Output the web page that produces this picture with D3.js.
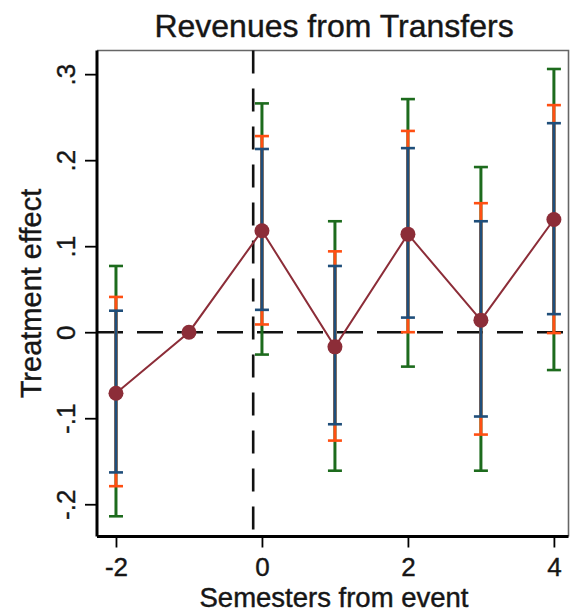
<!DOCTYPE html>
<html>
<head>
<meta charset="utf-8">
<script src="https://cdn.jsdelivr.net/npm/d3@7"></script>
<style>
  html, body { margin: 0; padding: 0; background: #fff; }
  svg { display: block; font-family: "Liberation Sans", Arial, sans-serif; }
</style>
</head>
<body>
<svg id="chart" width="570" height="613"></svg>
<script>
// ---- Data ----
const periods   = [-2, -1, 0, 1, 2, 3, 4];
const estimates = [-0.071, 0, 0.118, -0.017, 0.114, 0.014, 0.131];
// 90% CI (blue)
const ci90Low   = [-0.163, null, 0.026, -0.107, 0.017, -0.098, 0.021];
const ci90High  = [0.025, null, 0.213, 0.077, 0.214, 0.129, 0.243];
// 95% CI (orange)
const ci95Low   = [-0.179, null, 0.009, -0.126, 0.000, -0.119, -0.001];
const ci95High  = [0.041, null, 0.228, 0.094, 0.234, 0.150, 0.264];
// 99% CI (green)
const ci99Low   = [-0.214, null, -0.026, -0.161, -0.040, -0.161, -0.044];
const ci99High  = [0.077, null, 0.266, 0.129, 0.271, 0.192, 0.306];

const xTicks = [-2, 0, 2, 4];
const xTickLabels = ["-2", "0", "2", "4"];
const yTicks = [-0.2, -0.1, 0, 0.1, 0.2, 0.3];
const yTickLabels = ["-.2", "-.1", "0", ".1", ".2", ".3"];
const eventLine = -0.12;

const chartTitle = "Revenues from Transfers";
const xTitle = "Semesters from event";
const yTitle = "Treatment effect";

// ---- Layout ----
const svg = d3.select("#chart");
const pL = 97, pR = 568.5, pT = 50.5, pB = 536.5;

const x = d3.scaleLinear().domain([-2.26, 4.2]).range([pL, pR]);
const y = d3.scaleLinear().domain([-0.2375, 0.3275]).range([pB, pT]);

const colGreen = "#1d6b1d", colOrange = "#ff4f12", colBlue = "#1f4e7a", colMaroon = "#8c2d38";
const txtCol = "#161616";

// plot region border (top/right)
svg.append("path")
  .attr("d", `M${pL},${pT}H${pR}V${pB}`)
  .attr("fill", "none").attr("stroke", "#666").attr("stroke-width", 1.6);

// reference lines
svg.append("line")
  .attr("x1", pL).attr("x2", pR).attr("y1", y(0)).attr("y2", y(0))
  .attr("stroke", "#111").attr("stroke-width", 2.6).attr("stroke-dasharray", "26,14");
svg.append("line")
  .attr("x1", x(eventLine)).attr("x2", x(eventLine)).attr("y1", pT).attr("y2", pB)
  .attr("stroke", "#111").attr("stroke-width", 2.6).attr("stroke-dasharray", "23,15");

// CI bars
const capW = 7;
function drawCI(lo, hi, color) {
  const g = svg.append("g");
  periods.forEach((p, i) => {
    if (lo[i] == null) return;
    const cx = x(p);
    g.append("line").attr("x1", cx).attr("x2", cx).attr("y1", y(lo[i])).attr("y2", y(hi[i]))
      .attr("stroke", color).attr("stroke-width", 3);
    [lo[i], hi[i]].forEach(v => {
      g.append("line").attr("x1", cx - capW).attr("x2", cx + capW).attr("y1", y(v)).attr("y2", y(v))
        .attr("stroke", color).attr("stroke-width", 2.6);
    });
  });
}
drawCI(ci99Low, ci99High, colGreen);
drawCI(ci95Low, ci95High, colOrange);
drawCI(ci90Low, ci90High, colBlue);

// estimate line & markers
const line = d3.line().x((d, i) => x(periods[i])).y(d => y(d));
svg.append("path").datum(estimates).attr("d", line)
  .attr("fill", "none").attr("stroke", colMaroon).attr("stroke-width", 2);
svg.selectAll("circle.pt").data(estimates).enter().append("circle")
  .attr("class", "pt")
  .attr("cx", (d, i) => x(periods[i])).attr("cy", d => y(d)).attr("r", 7.5)
  .attr("fill", colMaroon);

// axes
const xAxis = d3.axisBottom(x).tickValues(xTicks).tickSize(11).tickPadding(10)
  .tickFormat((d, i) => xTickLabels[i]);
const gx = svg.append("g").attr("transform", `translate(0,${pB})`).call(xAxis);
gx.select(".domain").attr("d", `M${pL},0H${pR}`).attr("stroke", "#000").attr("stroke-width", 3);
gx.selectAll(".tick line").attr("stroke", "#000").attr("stroke-width", 1.8);
gx.selectAll(".tick text").attr("font-size", 26).attr("fill", txtCol)
  .attr("stroke", txtCol).attr("stroke-width", 0.4)
  .attr("font-family", "Liberation Sans, Arial, sans-serif");

const yAxis = d3.axisLeft(y).tickValues(yTicks).tickSize(12)
  .tickFormat((d, i) => yTickLabels[i]);
const gy = svg.append("g").attr("transform", `translate(${pL},0)`).call(yAxis);
gy.select(".domain").attr("d", `M0,${pT}V${pB}`).attr("stroke", "#000").attr("stroke-width", 3);
gy.selectAll(".tick line").attr("stroke", "#000").attr("stroke-width", 1.8);
gy.selectAll(".tick text")
  .attr("font-size", 26).attr("fill", txtCol)
  .attr("stroke", txtCol).attr("stroke-width", 0.4)
  .attr("font-family", "Liberation Sans, Arial, sans-serif")
  .attr("x", null).attr("dy", null)
  .attr("text-anchor", "middle")
  .attr("transform", "translate(-22,0) rotate(-90)");

// titles
svg.append("text").attr("x", 334).attr("y", 36.5)
  .attr("text-anchor", "middle").attr("font-size", 32).attr("fill", txtCol)
  .attr("stroke", txtCol).attr("stroke-width", 0.4).text(chartTitle);
svg.append("text").attr("x", 334).attr("y", 607)
  .attr("text-anchor", "middle").attr("font-size", 27.5).attr("fill", txtCol)
  .attr("stroke", txtCol).attr("stroke-width", 0.45).text(xTitle);
svg.append("text").attr("transform", `translate(41,${(pT + pB) / 2}) rotate(-90)`)
  .attr("text-anchor", "middle").attr("font-size", 29).attr("fill", txtCol)
  .attr("stroke", txtCol).attr("stroke-width", 0.4).text(yTitle);
</script>
</body>
</html>
